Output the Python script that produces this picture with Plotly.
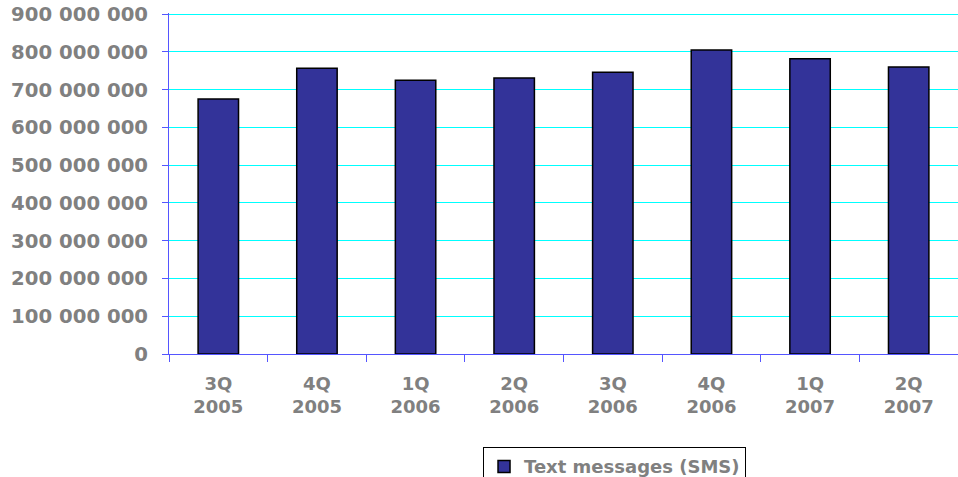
import plotly.graph_objects as go

quarters = ["3Q<br>2005", "4Q<br>2005", "1Q<br>2006", "2Q<br>2006",
            "3Q<br>2006", "4Q<br>2006", "1Q<br>2007", "2Q<br>2007"]
sms = [675_000_000, 757_000_000, 725_000_000, 731_000_000,
       746_000_000, 805_000_000, 782_000_000, 760_000_000]
y_ticks = list(range(0, 900_000_001, 100_000_000))

grey = "#808080"
axis_blue = "#5555FF"

fig = go.Figure()
fig.add_trace(go.Bar(
    x=quarters, y=sms, name="Text messages (SMS)",
    marker=dict(color="#333399", line=dict(color="#000000", width=1.5)),
))

fig.update_layout(
    width=958, height=477,
    margin=dict(l=169, r=0, t=13, b=123, autoexpand=False),
    paper_bgcolor="white", plot_bgcolor="white",
    separators=". ",
    bargap=0.59,
    font=dict(family="DejaVu Sans", color=grey),
    showlegend=True,
    legend=dict(
        x=0.398, y=-0.2735, xanchor="left", yanchor="top",
        bordercolor="#000000", borderwidth=1,
        font=dict(size=18, color=grey, family="DejaVu Sans", weight="bold"),
    ),
)
fig.update_xaxes(
    automargin=False,
    showline=True, linecolor=axis_blue, linewidth=1,
    tickson="boundaries", ticks="outside", ticklen=7, tickcolor=axis_blue,
    ticklabelstandoff=13,
    tickfont=dict(size=18, color=grey, family="DejaVu Sans", weight="bold"),
    showgrid=False,
)
# range a touch above 900M so the top gridline is still drawn
fig.update_yaxes(
    automargin=False, ticklabeloverflow="allow",
    range=[0, 903_000_000], tickvals=y_ticks, tickformat=",d",
    showline=True, linecolor=axis_blue, linewidth=1,
    ticks="outside", ticklen=6, tickcolor=axis_blue,
    ticklabelstandoff=10,
    showgrid=True, gridcolor="#00FFFF", gridwidth=1.3,
    zeroline=False,
    tickfont=dict(size=19.7, color=grey, family="DejaVu Sans", weight="bold"),
)

# drop the default 8px page margin so the figure sits at the window corner
fig.write_html("out.html", config={"displayModeBar": False},
               post_script="document.body.style.margin='0px';")
